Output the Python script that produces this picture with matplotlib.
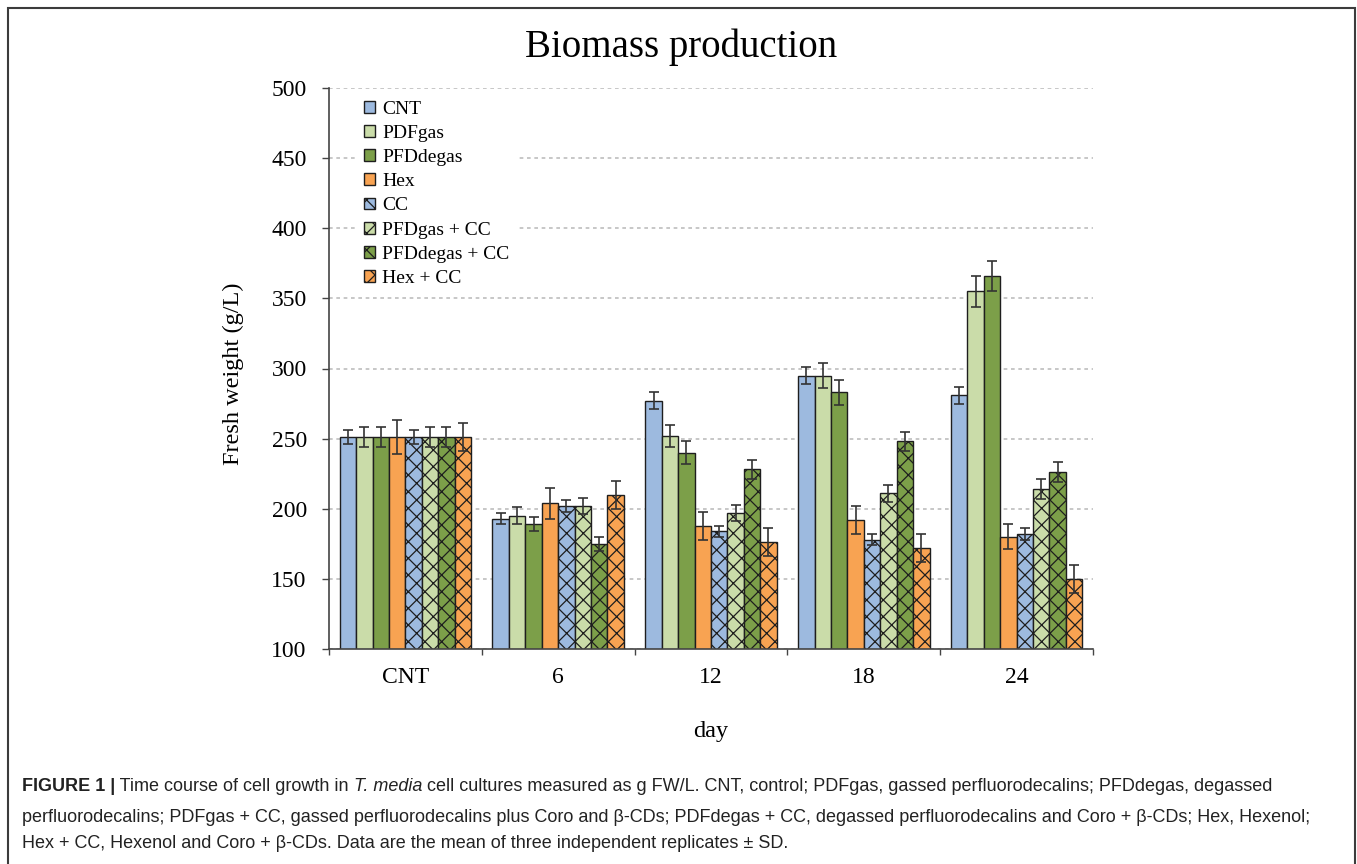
import matplotlib
matplotlib.use("Agg")
import matplotlib.pyplot as plt
from matplotlib.patches import Rectangle, Patch
import numpy as np

# ---- data -------------------------------------------------------------
days = ["CNT", "6", "12", "18", "24"]
treatments = ["CNT", "PDFgas", "PFDdegas", "Hex",
              "CC", "PFDgas + CC", "PFDdegas + CC", "Hex + CC"]

cnt_mean = [251, 193, 277, 295, 281]
pdfgas_mean = [251, 195, 252, 295, 355]
pfddegas_mean = [251, 189, 240, 283, 366]
hex_mean = [251, 204, 188, 192, 180]
cc_mean = [251, 202, 184, 178, 182]
pfdgas_cc_mean = [251, 202, 197, 211, 214]
pfddegas_cc_mean = [251, 175, 228, 248, 226]
hex_cc_mean = [251, 210, 176, 172, 150]

cnt_sd = [5, 4, 6, 6, 6]
pdfgas_sd = [7, 6, 8, 9, 11]
pfddegas_sd = [7, 5, 8, 9, 11]
hex_sd = [12, 11, 10, 10, 9]
cc_sd = [5, 4, 4, 4, 4]
pfdgas_cc_sd = [7, 6, 6, 6, 7]
pfddegas_cc_sd = [7, 5, 7, 7, 7]
hex_cc_sd = [10, 10, 10, 10, 10]

y_ticks = [100, 150, 200, 250, 300, 350, 400, 450, 500]

means = [cnt_mean, pdfgas_mean, pfddegas_mean, hex_mean,
         cc_mean, pfdgas_cc_mean, pfddegas_cc_mean, hex_cc_mean]
sds = [cnt_sd, pdfgas_sd, pfddegas_sd, hex_sd,
       cc_sd, pfdgas_cc_sd, pfddegas_cc_sd, hex_cc_sd]

blue, lgreen, green, orange = "#9dbadf", "#cadca9", "#7c9f49", "#f8a352"
colors = [blue, lgreen, green, orange, blue, lgreen, green, orange]
hatches = [None, None, None, None, "xx", "xx", "xx", "xx"]

# ---- figure -----------------------------------------------------------
W, H = 1357, 864
plt.rcParams["hatch.linewidth"] = 0.9
plt.rcParams["hatch.color"] = "#1e1e1e"
serif = ["Liberation Serif", "DejaVu Serif"]
sans = ["Liberation Sans", "DejaVu Sans"]

fig = plt.figure(figsize=(W / 100, H / 100), dpi=100)
fig.patch.set_facecolor("white")

ax_l, ax_r, ax_t, ax_b = 329, 1093, 88, 649
ax = fig.add_axes([ax_l / W, 1 - ax_b / H, (ax_r - ax_l) / W, (ax_b - ax_t) / H])

x = np.arange(len(days))
bw = 0.1075
for i, (m, s) in enumerate(zip(means, sds)):
    pos = x + (i - 3.5) * bw
    ax.bar(pos, m, width=bw, color=colors[i], edgecolor="#1e1e1e",
           linewidth=1.0, hatch=hatches[i], zorder=2, label=treatments[i])
    ax.errorbar(pos, m, yerr=s, fmt="none", ecolor="#333333",
                elinewidth=1.2, capsize=3.6, capthick=1.2, zorder=3)

ax.set_xlim(-0.5, len(days) - 0.5)
ax.set_ylim(100, 500)
ax.set_yticks(y_ticks)
ax.set_yticklabels([str(v) for v in y_ticks], family=serif, fontsize=17)

# tick marks at group boundaries, labels at group centres
ax.set_xticks(np.arange(len(days) + 1) - 0.5)
ax.set_xticklabels([])
ax.set_xticks(x, minor=True)
ax.set_xticklabels(days, minor=True, family=serif, fontsize=17)
ax.tick_params(axis="x", which="major", direction="out", length=4,
               width=1.0, color="#444444")
ax.tick_params(axis="x", which="minor", length=0, pad=13)
ax.tick_params(axis="y", direction="out", length=5, width=1.0,
               color="#444444", pad=11)

for sp in ["top", "right"]:
    ax.spines[sp].set_visible(False)
for sp in ["left", "bottom"]:
    ax.spines[sp].set_color("#444444")
    ax.spines[sp].set_linewidth(1.2)

ax.yaxis.grid(True, linestyle=(0, (2.2, 2.2)), color="#bdbdbd",
              linewidth=1.2, zorder=0)
ax.set_axisbelow(True)

ax.set_ylabel("Fresh weight (g/L)", family=serif, fontsize=17.5)
ax.yaxis.set_label_coords(-0.111, 0.49)
ax.set_xlabel("day", family=serif, fontsize=17.5)
ax.xaxis.set_label_coords(0.5, -0.128)

handles = [Patch(facecolor=colors[i], edgecolor="#1e1e1e", linewidth=1.0,
                 hatch=hatches[i]) for i in range(len(treatments))]
leg = ax.legend(handles, treatments, loc="upper left",
                bbox_to_anchor=(0.038, 0.988), frameon=True, fancybox=False,
                framealpha=1, edgecolor="white", facecolor="white",
                prop={"family": serif, "size": 14}, handlelength=0.55,
                handleheight=0.55, handletextpad=0.4, labelspacing=0.37,
                borderpad=0.3, borderaxespad=0)
leg.set_zorder(5)

fig.text(681 / W, 1 - 57 / H, "Biomass production", family=serif,
         fontsize=28, ha="center", va="baseline")

# outer frame
fig.add_artist(Rectangle((8 / W, -0.05), (1355 - 8) / W, 1 - 8 / H + 0.05,
                         transform=fig.transFigure, fill=False,
                         linewidth=1.5, edgecolor="#3c3c3c"))

# caption, assembled from styled pieces
def caption_line(parts, x_px, y_px, size=13):
    yf = 1 - y_px / H
    prev = None
    for txt, style in parts:
        kw = dict(family=sans, fontsize=size, color="#222222",
                  ha="left", va="baseline")
        if style == "b":
            kw["weight"] = "bold"
        elif style == "i":
            kw["style"] = "italic"
        if prev is None:
            prev = fig.text(x_px / W, yf, txt, **kw)
        else:
            prev = plt.annotate(txt, xy=(1, yf),
                                xycoords=(prev, "figure fraction"),
                                annotation_clip=False, **kw)

caption_line([("FIGURE 1 |", "b"),
              (" Time course of cell growth in", "n"),
              (" T. media", "i"),
              (" cell cultures measured as g FW/L. CNT, control; PDFgas, gassed "
               "perfluorodecalins; PFDdegas, degassed", "n")], 22, 791)
caption_line([("perfluorodecalins; PDFgas + CC, gassed perfluorodecalins plus Coro "
               "and \u03b2-CDs; PDFdegas + CC, degassed perfluorodecalins and Coro + "
               "\u03b2-CDs; Hex, Hexenol;", "n")], 22, 822)
caption_line([("Hex + CC, Hexenol and Coro + \u03b2-CDs. Data are the mean of three "
               "independent replicates \u00b1 SD.", "n")], 22, 848)

fig.savefig("out.png", dpi=100, facecolor="white")
